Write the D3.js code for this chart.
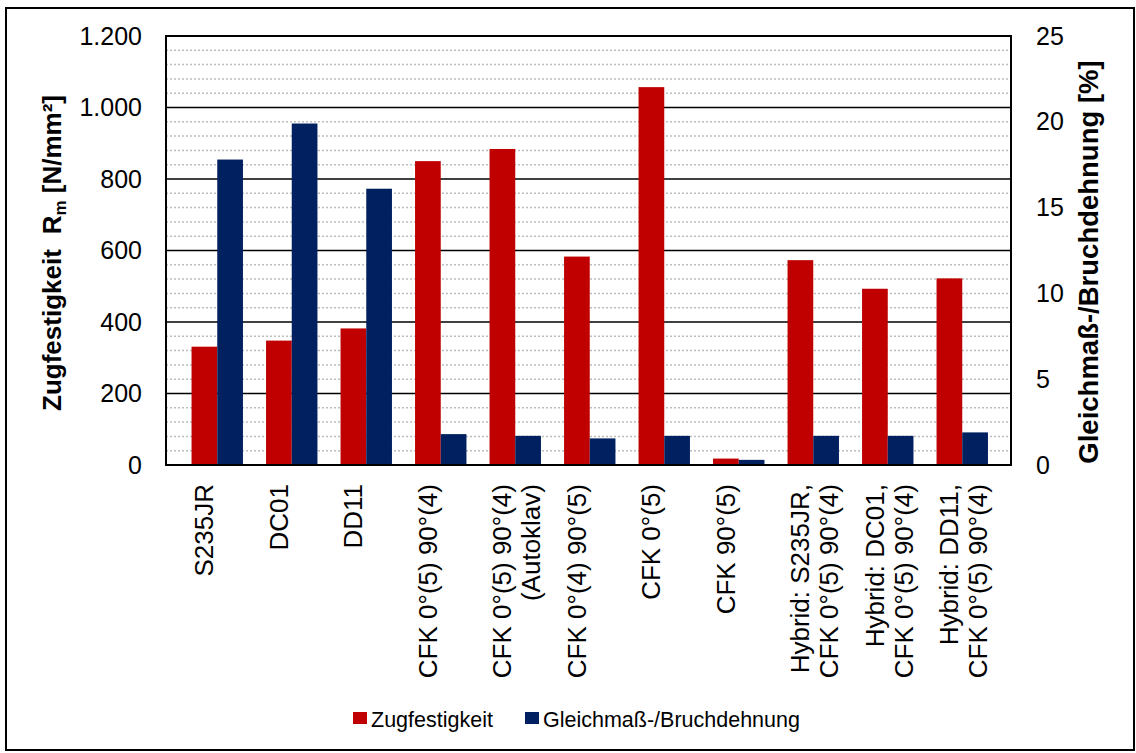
<!DOCTYPE html>
<html>
<head>
<meta charset="utf-8">
<script src="https://cdn.jsdelivr.net/npm/d3@7"></script>
<style>
  body { margin: 0; background: #fff; }
  svg { font-family: "Liberation Sans", Arial, sans-serif; }
</style>
</head>
<body>
<div id="chart"></div>
<script>
// categories (line breaks as in the original axis labels)
const categories = [
  "S235JR",
  "DC01",
  "DD11",
  "CFK 0°(5) 90°(4)",
  "CFK 0°(5) 90°(4)\n(Autoklav)",
  "CFK 0°(4) 90°(5)",
  "CFK 0°(5)",
  "CFK 90°(5)",
  "Hybrid: S235JR,\nCFK 0°(5) 90°(4)",
  "Hybrid: DC01,\nCFK 0°(5) 90°(4)",
  "Hybrid: DD11,\nCFK 0°(5) 90°(4)"
];
// Zugfestigkeit Rm [N/mm²] (left axis)
const zugfestigkeit = [331, 348, 382, 850, 884, 583, 1057, 18, 573, 493, 522];
// Gleichmaß-/Bruchdehnung [%] (right axis)
const dehnung = [17.8, 19.9, 16.1, 1.8, 1.7, 1.55, 1.7, 0.3, 1.7, 1.7, 1.9];

const seriesNames = ["Zugfestigkeit", "Gleichmaß-/Bruchdehnung"];
const leftTicks = [0, 200, 400, 600, 800, 1000, 1200];
const rightTicks = [0, 5, 10, 15, 20, 25];

const width = 1136, height = 753;
const plot = { left: 166, right: 1011, top: 36, bottom: 465 };
const colors = ["#c00000", "#002060"];

const svg = d3.select("#chart").append("svg")
  .attr("width", width)
  .attr("height", height);

// outer chart border
svg.append("rect")
  .attr("x", 6).attr("y", 8)
  .attr("width", 1128).attr("height", 742)
  .attr("fill", "none")
  .attr("stroke", "#000")
  .attr("stroke-width", 2);

const yLeft = d3.scaleLinear().domain([0, 1200]).range([plot.bottom, plot.top]);
const yRight = d3.scaleLinear().domain([0, 25]).range([plot.bottom, plot.top]);

const x0 = d3.scaleBand()
  .domain(categories)
  .range([180, 999.5])
  .paddingInner(0.31)
  .paddingOuter(0.155);
const x1 = d3.scaleBand()
  .domain(seriesNames)
  .range([0, x0.bandwidth()]);

// minor dotted gridlines
const minor = d3.range(40, 1200, 40).filter(v => v % 200 !== 0);
svg.append("g")
  .selectAll("line")
  .data(minor)
  .join("line")
  .attr("x1", plot.left).attr("x2", plot.right)
  .attr("y1", d => yLeft(d)).attr("y2", d => yLeft(d))
  .attr("stroke", "#bdbdbd")
  .attr("stroke-width", 1.5)
  .attr("stroke-dasharray", "2,2");

// major gridlines
svg.append("g")
  .selectAll("line")
  .data(leftTicks.slice(1))
  .join("line")
  .attr("x1", plot.left).attr("x2", plot.right)
  .attr("y1", d => yLeft(d)).attr("y2", d => yLeft(d))
  .attr("stroke", "#000")
  .attr("stroke-width", 1.5);

// bars
const rows = categories.map((c, i) => ({ cat: c, vals: [zugfestigkeit[i], dehnung[i]] }));
const scales = [yLeft, yRight];
svg.append("g")
  .selectAll("g")
  .data(rows)
  .join("g")
  .attr("transform", d => `translate(${x0(d.cat)},0)`)
  .selectAll("rect")
  .data(d => d.vals.map((v, j) => ({ key: seriesNames[j], v, j })))
  .join("rect")
  .attr("x", d => x1(d.key))
  .attr("width", x1.bandwidth())
  .attr("y", d => scales[d.j](d.v))
  .attr("height", d => plot.bottom - scales[d.j](d.v))
  .attr("fill", d => colors[d.j]);

// plot frame
svg.append("rect")
  .attr("x", plot.left).attr("y", plot.top)
  .attr("width", plot.right - plot.left)
  .attr("height", plot.bottom - plot.top)
  .attr("fill", "none")
  .attr("stroke", "#000")
  .attr("stroke-width", 2);

// axes
const fmt = d3.formatLocale({ decimal: ",", thousands: ".", grouping: [3], currency: ["", "€"] }).format(",d");
const gl = svg.append("g")
  .attr("transform", `translate(${plot.left},0)`)
  .call(d3.axisLeft(yLeft).tickValues(leftTicks).tickFormat(fmt).tickSize(0).tickPadding(24));
const gr = svg.append("g")
  .attr("transform", `translate(${plot.right},0)`)
  .call(d3.axisRight(yRight).tickValues(rightTicks).tickSize(0).tickPadding(25));
[gl, gr].forEach(g => {
  g.select(".domain").remove();
  g.selectAll("text")
    .attr("font-family", "Liberation Sans, Arial, sans-serif")
    .attr("font-size", 25)
    .attr("fill", "#000");
});

// category labels, rotated
const lab = svg.append("g")
  .selectAll("text")
  .data(categories)
  .join("text")
  .attr("transform", d => `translate(${x0(d) + x0.bandwidth() / 2 - 4},484) rotate(-90)`)
  .attr("text-anchor", "end")
  .attr("font-size", 26)
  .attr("fill", "#000");
lab.selectAll("tspan")
  .data(d => d.split("\n"))
  .join("tspan")
  .attr("x", 0)
  .attr("y", (d, i) => i * 29)
  .text(d => d);

// left axis title
const tl = svg.append("text")
  .attr("transform", "translate(61,253) rotate(-90)")
  .attr("text-anchor", "middle")
  .attr("font-size", 26)
  .attr("font-weight", "bold")
  .attr("fill", "#000");
tl.append("tspan").text("Zugfestigkeit");
tl.append("tspan").attr("dx", 15).text("R");
tl.append("tspan").attr("font-size", 17).attr("dy", 5).text("m");
tl.append("tspan").attr("dy", -5).attr("dx", 7).text("[N/mm²]");

// right axis title
svg.append("text")
  .attr("transform", "translate(1098,262) rotate(-90)")
  .attr("text-anchor", "middle")
  .attr("font-size", 27.5)
  .attr("font-weight", "bold")
  .attr("fill", "#000")
  .text("Gleichmaß-/Bruchdehnung [%]");

// legend
const legendX = [353, 525];
const lg = svg.append("g")
  .selectAll("g")
  .data(seriesNames)
  .join("g")
  .attr("transform", (d, i) => `translate(${legendX[i]},712)`);
lg.append("rect")
  .attr("width", 14).attr("height", 12)
  .attr("fill", (d, i) => colors[i]);
lg.append("text")
  .attr("x", 18).attr("y", 14.5)
  .attr("font-size", 21.5)
  .attr("fill", "#000")
  .text(d => d);
</script>
</body>
</html>
